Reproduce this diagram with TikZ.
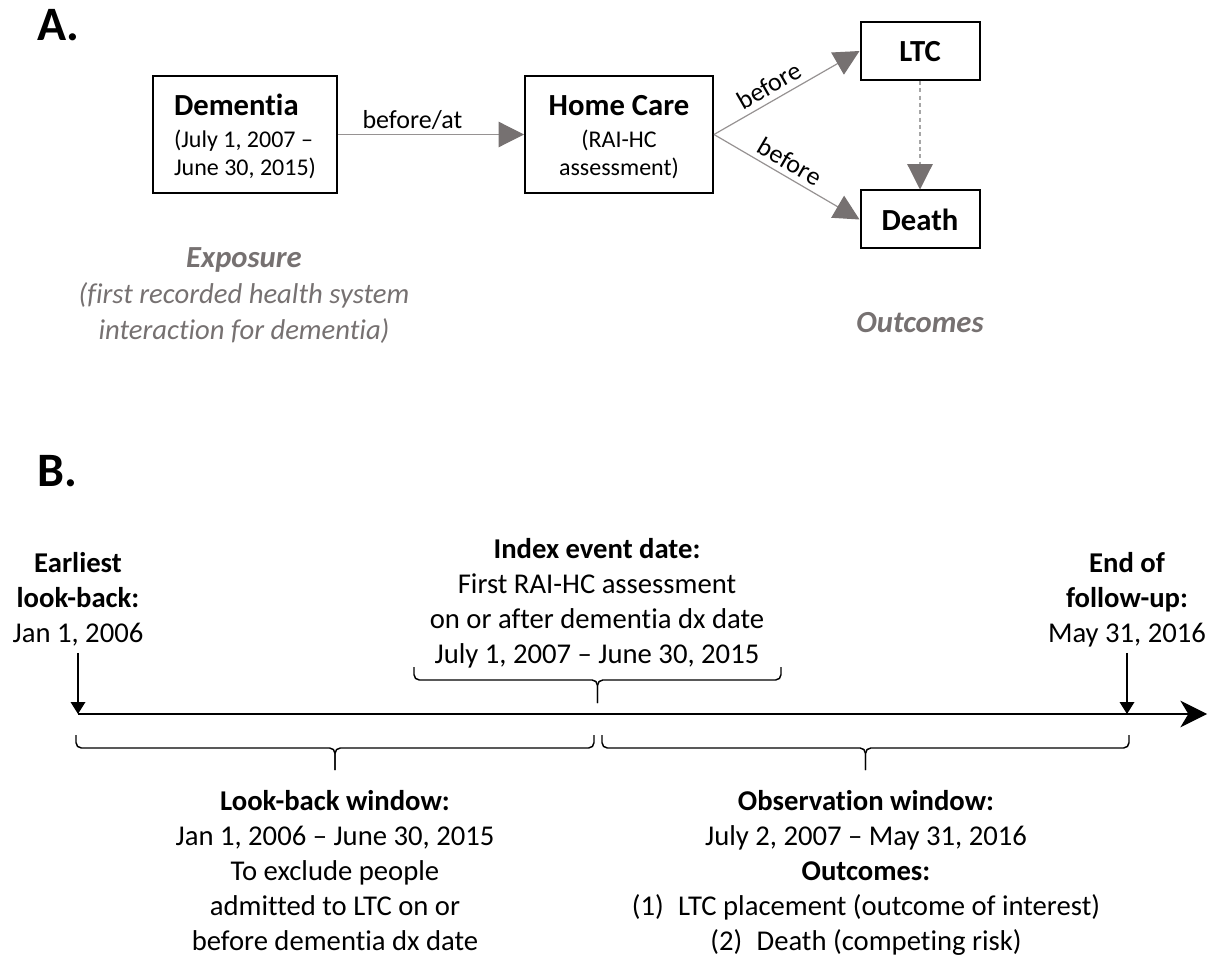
\documentclass[tikz,border=0pt]{standalone}
\usepackage{fontspec}
\setmainfont{Carlito}[Ligatures={TeX,NoCommon}]
\usetikzlibrary{arrows.meta}

\definecolor{capgray}{RGB}{118,113,113}
\definecolor{linegray}{RGB}{150,146,146}
\definecolor{dashgray}{RGB}{166,166,166}

% stacked lines, baseline at the first line
\newcommand{\stackc}[1]{\begin{tabular}[t]{@{}c@{}}#1\end{tabular}}
\newcommand{\stackl}[1]{\begin{tabular}[t]{@{}l@{}}#1\end{tabular}}
\newcommand{\boxtitle}[1]{{\bfseries\fontsize{23}{24}\selectfont #1}}

% bracket under/over the time line: x1, x2, y of ends, y of bar, y of tick end
\newcommand{\tlbrace}[5]{%
  \draw[brc] (#1,#3) -- (#1,#4) -- ({(#1+#2)/2},#4) -- ({(#1+#2)/2},#5);
  \draw[brc] (#2,#3) -- (#2,#4) -- ({(#1+#2)/2},#4) -- ({(#1+#2)/2},#5);}

\tikzset{
  hdr/.style={inner sep=0pt, font=\bfseries\fontsize{36}{40}\selectfont},
  tbox/.style={draw=black, line width=1.5pt, inner sep=0pt,
    text height=20pt, text depth=48.5pt, minimum height=87.75pt,
    font=\fontsize{18}{21}\selectfont},
  obox/.style={draw=black, line width=1.5pt, inner sep=0pt,
    text height=16.5pt, text depth=0pt, minimum width=89.25pt, minimum height=43.5pt,
    font=\bfseries\fontsize{23}{24}\selectfont},
  garrow/.style={draw=linegray, line width=0.9pt,
    -{Triangle[length=19pt, width=19pt, color=capgray]}},
  lbl/.style={inner sep=3pt, font=\fontsize{19.5}{22}\selectfont},
  slbl/.style={lbl, sloped, above, inner sep=4pt},
  note/.style={inner sep=0pt, anchor=base, text=capgray,
    font=\itshape\fontsize{21.5}{27}\selectfont},
  tl/.style={inner sep=0pt, anchor=base, font=\fontsize{21.5}{26.25}\selectfont},
  tline/.style={draw=black, line width=1pt},
  brc/.style={draw=black, line width=1.1pt, rounded corners=4pt},
}

\begin{document}
\begin{tikzpicture}[x=0.75pt, y=-0.75pt]
\useasboundingbox (0,0) rectangle (1215,959);

% ---------------- Panel A ----------------
\node[hdr, anchor=base west] (pa) at (37,41) {A.};

\node[tbox, minimum width=138pt] (dem) at (245,134.5)
  {\stackl{\boxtitle{Dementia}\\[3pt] (July 1, 2007 --\\ June 30, 2015)}};
\node[tbox, minimum width=141pt] (hc) at (619,134.5)
  {\stackc{\boxtitle{Home Care}\\[3pt] (RAI-HC\\ assessment)}};
\node[obox] (ltc) at (920,51) {LTC};
\node[obox] (death) at (920,219.5) {Death};

\draw[garrow] (dem.east) -- node[lbl, above, pos=0.40] {before/at} (hc.west);
\draw[garrow] (hc.east) -- node[slbl, pos=0.43] {before} (ltc.west);
\draw[garrow] (hc.east) -- node[slbl, pos=0.47] {before} (death.west);
\draw[garrow, draw=dashgray, dash pattern=on 3pt off 2.5pt] (ltc.south) -- (death.north);

\node[note] (expo) at (244,268)
  {\stackc{{\bfseries\fontsize{23}{24}\selectfont Exposure}\\
   (first recorded health system\\ interaction for dementia)}};
\node[note, font=\bfseries\itshape\fontsize{23}{24}\selectfont] (outc) at (920,333) {Outcomes};

% ---------------- Panel B ----------------
\node[hdr, anchor=base west] (pb) at (37,487) {B.};

\node[tl] (early) at (78,572)
  {\stackc{\textbf{Earliest}\\ \textbf{look-back:}\\ Jan 1, 2006}};
\node[tl] (endfu) at (1127,572)
  {\stackc{\textbf{End of}\\ \textbf{follow-up:}\\ May 31, 2016}};
\node[tl] (index) at (597,558)
  {\stackc{\textbf{Index event date:}\\ First RAI-HC assessment\\
   on or after dementia dx date\\ July 1, 2007 -- June 30, 2015}};
\node[tl] (lookb) at (335,810)
  {\stackc{\textbf{Look-back window:}\\ Jan 1, 2006 -- June 30, 2015\\
   To exclude people\\ admitted to LTC on or\\ before dementia dx date}};
\node[tl] (obsw) at (866,810)
  {\stackc{\textbf{Observation window:}\\ July 2, 2007 -- May 31, 2016\\
   \textbf{Outcomes:}\\ (1)\enspace LTC placement (outcome of interest)\\
   (2)\enspace Death (competing risk)}};

% time line
\coordinate (t0) at (78,714);
\coordinate (tfu) at (1127,714);
\coordinate (t1) at (1207,714);
\draw[tline, -{Stealth[length=20pt, width=20pt, inset=6pt]}] (t0) -- (t1);
\draw[tline, -{Triangle[length=9pt, width=11pt]}] (early.south) -- (t0);
\draw[tline, -{Triangle[length=9pt, width=11pt]}] (endfu.south) -- (tfu);

% brackets
\tlbrace{414}{781}{667}{680}{703}
\tlbrace{76}{594}{735}{748}{770}
\tlbrace{602}{1129}{735}{748}{770}
\end{tikzpicture}
\end{document}
